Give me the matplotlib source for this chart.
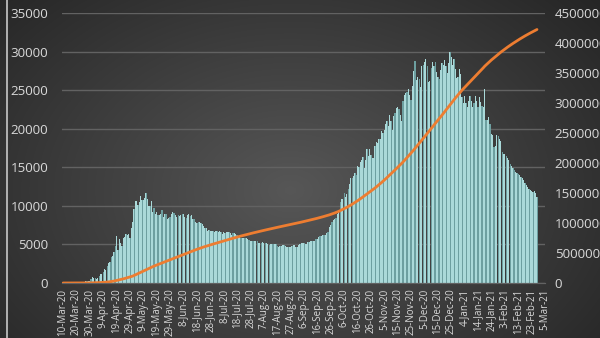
import matplotlib
matplotlib.use("Agg")
import matplotlib.pyplot as plt
import numpy as np
import pandas as pd
from matplotlib.lines import Line2D

START_DATE = "2020-03-10"

# daily new cases (10-Mar-20 .. 27-Feb-21)
mar20 = [3, 8, 6, 17, 14, 4, 30, 21, 33, 52, 54, 53, 61, 71, 57, 163, 182,
         196, 228, 270, 302, 501]
apr20 = [771, 601, 601, 582, 658, 954, 1154, 1175, 1459, 1786, 1667, 2186,
         2558, 2774, 3388, 3448, 4070, 4785, 6060, 4268, 5642, 5236, 4774,
         5849, 5966, 6361, 6198, 6411, 5841, 7099]
may20 = [7933, 9623, 10633, 10581, 10102, 10559, 11231, 10699, 10817, 11012,
         11656, 10899, 10028, 9974, 10598, 9200, 9709, 8926, 9263, 8764, 8849,
         8894, 9434, 8599, 8946, 8915, 8338, 8371, 8572, 8952, 9268]
jun20 = [9035, 8863, 8536, 8831, 8726, 8855, 8984, 8985, 8595, 8404, 8779,
         8987, 8706, 8835, 8246, 8248, 7843, 7790, 7972, 7889, 7728, 7600,
         7425, 7176, 7113, 6800, 6852, 6791, 6719, 6693]
jul20 = [6556, 6760, 6718, 6632, 6736, 6611, 6368, 6562, 6509, 6635, 6611,
         6615, 6537, 6248, 6422, 6428, 6406, 6234, 6109, 5940, 5842, 5862,
         5848, 5811, 5871, 5765, 5635, 5475, 5395, 5509, 5482]
aug20 = [5462, 5427, 5159, 5159, 5204, 5267, 5241, 5212, 5189, 5118, 4945,
         5102, 5057, 5061, 5065, 5076, 4839, 4718, 4748, 4767, 4870, 4921,
         4852, 4676, 4696, 4711, 4676, 4829, 4980, 4897, 4729]
sep20 = [4676, 4952, 5110, 5185, 5205, 5195, 5099, 5099, 5363, 5363, 5449,
         5488, 5406, 5509, 5670, 5670, 5905, 6065, 6148, 6196, 6215, 6234,
         6431, 6595, 7212, 7523, 7867, 8135, 8232, 8481]
oct20 = [8945, 9412, 10499, 10888, 10888, 11615, 11115, 11493, 12126, 12846,
         13634, 13592, 13868, 14231, 14026, 15150, 15099, 15700, 15982, 16319,
         14922, 15971, 17340, 16521, 17347, 16550, 16202, 16203, 17717, 18283,
         18140]
nov20 = [18665, 18648, 19768, 19404, 19851, 20582, 20977, 20396, 21798, 20977,
         19851, 21608, 21983, 22702, 22778, 22572, 21798, 20977, 23610, 24318,
         24581, 24822, 25173, 24326, 23675, 25487, 27543, 28782, 26338, 26683]
dec20 = [26402, 25345, 28145, 28209, 28585, 29039, 28137, 26097, 26190, 27927,
         28585, 28137, 28585, 27328, 26689, 26509, 27656, 28552, 28209, 28948,
         28137, 27206, 28552, 29935, 29258, 28284, 29018, 27787, 26513, 26689,
         27787]
jan21 = [27039, 24150, 23351, 24246, 23309, 22857, 23541, 24217, 23652, 22851,
         23315, 24217, 23541, 22851, 24092, 23510, 22934, 22857, 25100, 21152,
         21127, 21513, 20652, 19290, 19238, 17648, 17741, 19138, 19032, 18670,
         18359]
feb21 = [17000, 16714, 16688, 16474, 16200, 15900, 15484, 15223, 14900, 14700,
         14350, 14250, 14185, 14000, 13800, 13600, 13350, 12953, 12742, 12500,
         12200, 12050, 11900, 11749, 11900, 11650, 11200]

LEFT_TICKS = list(range(0, 35001, 5000))
RIGHT_TICKS = list(range(0, 4500001, 500000))
LABEL_EVERY = 10
AXIS_DAYS = 360

TEXT = "#d9d9d9"
GRID = "#626262"
ORANGE = "#ed7d31"


def draw_background(fig):
    bg = fig.add_axes([0, 0, 1, 1], zorder=-10)
    yy, xx = np.mgrid[0:338, 0:600]
    r = np.hypot((xx - 290) / 420, (yy - 190) / 300)
    shade = np.clip(0.34 - 0.2 * r, 0.1, 0.34)
    bg.imshow(np.dstack([shade] * 3), aspect="auto", extent=[0, 1, 0, 1])
    bg.set_axis_off()
    fig.add_artist(Line2D([6.5 / 600] * 2, [0, 1], color="#c8c8c8", lw=1.2))


def draw_bars(ax, days, daily):
    # two-tone bars to mimic Excel's gradient fill
    ax.bar(days, daily, width=0.95, color="#6d9fa0", linewidth=0)
    ax.bar(days - 0.1, daily, width=0.6, color="#aad9d9", linewidth=0)
    ax.set_ylim(0, 35000)
    ax.set_yticks(LEFT_TICKS)
    ax.set_yticklabels([str(v) for v in LEFT_TICKS])
    ax.yaxis.grid(True, color=GRID, lw=1.0)
    ax.set_axisbelow(True)


def draw_cumulative(ax, days, cumulative):
    ax.plot(days, cumulative, color=ORANGE, lw=2.0, solid_capstyle="round")
    ax.set_ylim(0, 4500000)
    ax.set_yticks(RIGHT_TICKS)
    ax.set_yticklabels([str(v) for v in RIGHT_TICKS])


def style_axes(ax, ax2):
    for a in (ax, ax2):
        a.set_facecolor("none")
        for side in ("top", "left", "right"):
            a.spines[side].set_visible(False)
        a.spines["bottom"].set_color(GRID)
    ax.tick_params(axis="y", length=0, pad=10, labelsize=9.6, labelcolor=TEXT)
    ax2.tick_params(axis="y", length=0, pad=7, labelsize=9.6, labelcolor=TEXT)
    ax.tick_params(axis="x", length=0, pad=4, labelsize=7, labelcolor=TEXT,
                   labelrotation=90)


def main():
    plt.rcParams["font.family"] = ["Open Sans", "DejaVu Sans"]
    daily = np.array(mar20 + apr20 + may20 + jun20 + jul20 + aug20 + sep20
                     + oct20 + nov20 + dec20 + jan21 + feb21)
    days = np.arange(len(daily))
    cumulative = np.cumsum(daily)

    fig = plt.figure(figsize=(6, 3.38), dpi=100)
    draw_background(fig)
    ax = fig.add_axes([62 / 600, 1 - 283 / 338, 483 / 600, 270 / 338])
    ax2 = ax.twinx()

    draw_bars(ax, days, daily)
    draw_cumulative(ax2, days, cumulative)

    tick_days = np.arange(0, AXIS_DAYS + 1, LABEL_EVERY)
    tick_dates = pd.date_range(START_DATE, periods=AXIS_DAYS + 1)[tick_days]
    ax.set_xticks(tick_days)
    ax.set_xticklabels([f"{d.day}-{d:%b-%y}" for d in tick_dates])
    ax.set_xlim(-0.75, AXIS_DAYS)

    style_axes(ax, ax2)
    fig.savefig("out.png", dpi=100)


if __name__ == "__main__":
    main()
